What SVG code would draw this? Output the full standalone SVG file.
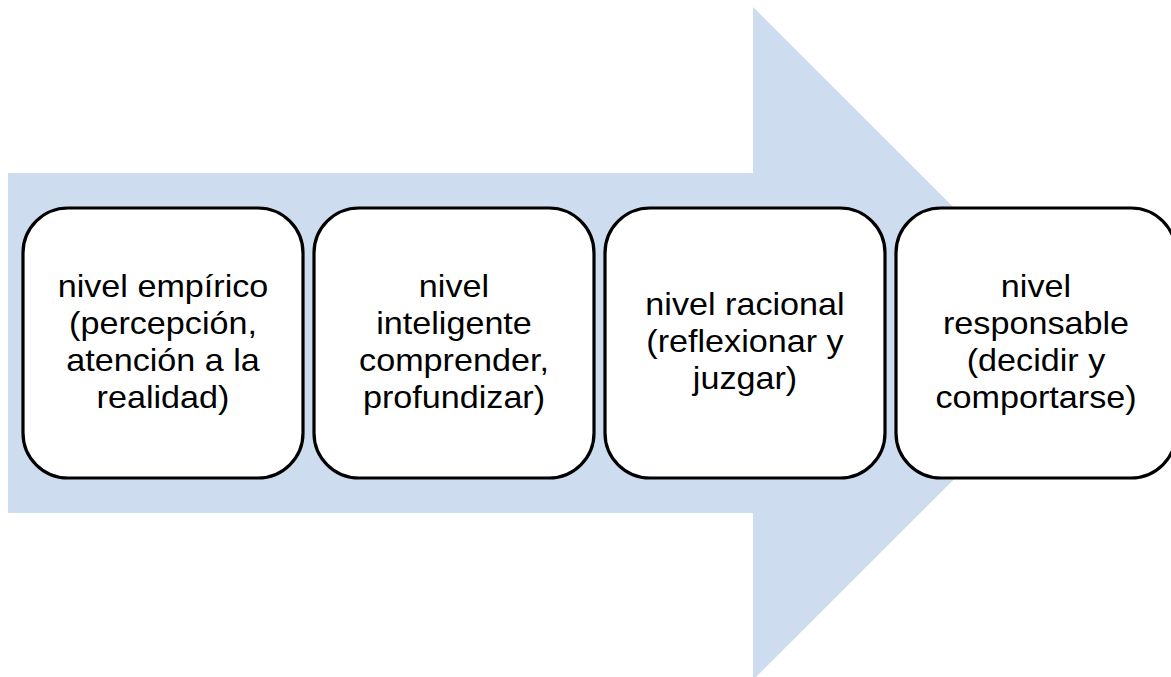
<svg xmlns="http://www.w3.org/2000/svg" width="1171" height="677" viewBox="0 0 1171 677">
<style>
.box{fill:#ffffff;stroke:#000000;stroke-width:3.2}
.t{font-family:"Liberation Sans",Arial,sans-serif;font-size:30.5px;fill:#000000;text-anchor:middle}
</style>
<rect width="1171" height="677" fill="#ffffff"/>
<g id="arrow">
<polygon points="8,173 753,173 753,7 1090,343.5 753,680 753,513 8,513" fill="#CDDCEE"/>
</g>
<g id="connectors"></g>
<g id="node1">
<rect class="box" x="23" y="208" width="280" height="270" rx="45" ry="45"/>
<g transform="translate(163,0) scale(1.12,1)">
<text class="t" x="0" y="297">nivel empírico</text>
<text class="t" x="0" y="334">(percepción,</text>
<text class="t" x="0" y="371">atención a la</text>
<text class="t" x="0" y="408">realidad)</text>
</g>
</g>
<g id="node2">
<rect class="box" x="314" y="208" width="280" height="270" rx="45" ry="45"/>
<g transform="translate(454,0) scale(1.12,1)">
<text class="t" x="0" y="297">nivel</text>
<text class="t" x="0" y="334">inteligente</text>
<text class="t" x="0" y="371">comprender,</text>
<text class="t" x="0" y="408">profundizar)</text>
</g>
</g>
<g id="node3">
<rect class="box" x="605" y="208" width="280" height="270" rx="45" ry="45"/>
<g transform="translate(745,0) scale(1.12,1)">
<text class="t" x="0" y="315">nivel racional</text>
<text class="t" x="0" y="352">(reflexionar y</text>
<text class="t" x="0" y="389">juzgar)</text>
</g>
</g>
<g id="node4">
<rect class="box" x="896" y="208" width="280" height="270" rx="45" ry="45"/>
<g transform="translate(1036,0) scale(1.12,1)">
<text class="t" x="0" y="297">nivel</text>
<text class="t" x="0" y="334">responsable</text>
<text class="t" x="0" y="371">(decidir y</text>
<text class="t" x="0" y="408">comportarse)</text>
</g>
</g>
</svg>
